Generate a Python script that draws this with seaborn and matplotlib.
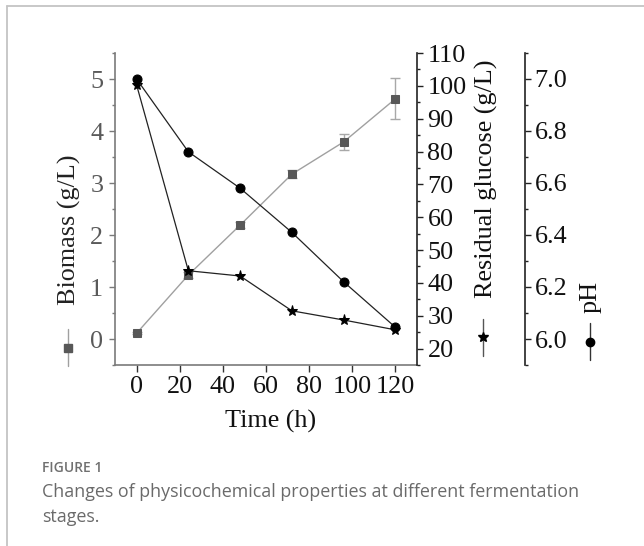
import numpy as np
import pandas as pd
import matplotlib
matplotlib.use("Agg")
import matplotlib.pyplot as plt
from matplotlib.ticker import MultipleLocator
from matplotlib.lines import Line2D
import seaborn as sns

# ---------------- data ----------------
time_h = [0, 24, 48, 72, 96, 120]
biomass = [0.11, 1.23, 2.19, 3.17, 3.79, 4.62]
biomass_err = [0.02, 0.05, 0.06, 0.08, 0.15, 0.39]
glucose = [100.3, 43.7, 42.1, 31.5, 28.7, 25.7]
ph = [7.00, 6.72, 6.58, 6.41, 6.22, 6.045]

x_ticks = [0, 20, 40, 60, 80, 100, 120]
biomass_ticks = [0, 1, 2, 3, 4, 5]
glucose_ticks = [20, 30, 40, 50, 60, 70, 80, 90, 100, 110]
ph_ticks = [6.0, 6.2, 6.4, 6.6, 6.8, 7.0]

df = pd.DataFrame({"time": time_h, "biomass": biomass, "err": biomass_err,
                   "glucose": glucose, "ph": ph})

sns.set_style("ticks")
plt.rcParams['font.family'] = ['Liberation Serif', 'DejaVu Serif']
plt.rcParams['mathtext.fontset'] = 'stix'

W, H = 644, 546
fig = plt.figure(figsize=(W / 100, H / 100), dpi=100)

def fx(px):
    return px / W

def fy(py):
    return 1 - py / H

L, R, T, B = 115, 417, 53, 365
ax = fig.add_axes([fx(L), fy(B), (R - L) / W, (B - T) / H])
ax2 = ax.twinx()
ax3 = ax.twinx()

FS = 18.8
GRAY_AX = "#7a7a7a"

# ---- biomass ----
ax.errorbar(df["time"], df["biomass"], yerr=df["err"], fmt="none",
            ecolor="#a8a8a8", elinewidth=1.0, capsize=3.5, capthick=1.0, zorder=2)
sns.lineplot(data=df, x="time", y="biomass", ax=ax, color="#a0a0a0", lw=1.0,
             marker="s", markersize=5.5, markerfacecolor="#585858",
             markeredgecolor="#585858", zorder=3)
ax.set_xlim(-10, 130)
ax.set_ylim(-0.5, 5.5)
ax.set_xticks(x_ticks)
ax.set_yticks(biomass_ticks)
ax.yaxis.set_minor_locator(MultipleLocator(0.5))
ax.set_xlabel("")
ax.set_ylabel("")
for s in ["top", "right"]:
    ax.spines[s].set_visible(False)
for s in ["left", "bottom"]:
    ax.spines[s].set_color(GRAY_AX)
    ax.spines[s].set_linewidth(1.2)
ax.tick_params(axis="y", which="major", direction="out", length=4.5, width=1.0,
               color=GRAY_AX, labelsize=FS, labelcolor="#5a5a5a", pad=4)
ax.tick_params(axis="y", which="minor", direction="out", length=2.5, width=1.0,
               color=GRAY_AX)
ax.tick_params(axis="x", which="major", direction="out", length=5, width=1.0,
               color="#333333", labelsize=FS, labelcolor="#111111", pad=3)

# ---- glucose ----
sns.lineplot(data=df, x="time", y="glucose", ax=ax2, color="#222222", lw=0.9,
             marker="*", markersize=8, markerfacecolor="#000000",
             markeredgecolor="#000000", zorder=4)
ax2.set_ylim(15, 110)
ax2.set_yticks(glucose_ticks)
ax2.yaxis.set_minor_locator(MultipleLocator(5))
ax2.set_ylabel("")
for s in ["top", "left", "bottom"]:
    ax2.spines[s].set_visible(False)
ax2.spines["right"].set_color("#222222")
ax2.spines["right"].set_linewidth(1.2)
ax2.tick_params(axis="y", which="major", direction="out", length=4.5, width=1.0,
                color="#222222", labelsize=FS, labelcolor="#111111", pad=3)
ax2.tick_params(axis="y", which="minor", direction="out", length=2.5, width=1.0,
                color="#222222")

# ---- pH ----
sns.lineplot(data=df, x="time", y="ph", ax=ax3, color="#222222", lw=0.9,
             marker="o", markersize=6.5, markerfacecolor="#000000",
             markeredgecolor="#000000", zorder=5)
ax3.set_ylim(5.9, 7.1)
ax3.set_yticks(ph_ticks)
ax3.yaxis.set_minor_locator(MultipleLocator(0.1))
ax3.set_ylabel("")
ax3.spines["right"].set_position(("axes", (525 - L) / (R - L)))
for s in ["top", "left", "bottom"]:
    ax3.spines[s].set_visible(False)
ax3.spines["right"].set_color("#222222")
ax3.spines["right"].set_linewidth(1.2)
ax3.yaxis.set_major_formatter(matplotlib.ticker.FormatStrFormatter("%.1f"))
ax3.tick_params(axis="y", which="major", direction="out", length=4.5, width=1.0,
                color="#222222", labelsize=FS, labelcolor="#111111", pad=2.5)
ax3.tick_params(axis="y", which="minor", direction="out", length=2.5, width=1.0,
                color="#222222")

# ---- axis titles ----
fig.text(fx(271), fy(421), "Time (h)", ha="center", va="center", fontsize=FS,
         color="#111111")
fig.text(fx(69), fy(230), "Biomass (g/L)", ha="center", va="center", rotation=90,
         fontsize=FS, color="#222222")
fig.text(fx(486), fy(179), "Residual glucose (g/L)", ha="center", va="center",
         rotation=90, fontsize=FS, color="#111111")
fig.text(fx(591), fy(297), "pH", ha="center", va="center", rotation=90,
         fontsize=FS, color="#111111")

# ---- legend-like symbols next to axis titles ----
def key(xp, y0, y1, ym, marker, ms, lc, mc):
    fig.add_artist(Line2D([fx(xp), fx(xp)], [fy(y0), fy(y1)], transform=fig.transFigure,
                          color=lc, lw=1.0))
    fig.add_artist(Line2D([fx(xp)], [fy(ym)], transform=fig.transFigure, marker=marker,
                          markersize=ms, color=mc, markerfacecolor=mc,
                          markeredgecolor=mc, lw=0))

key(68, 329, 366, 348, "s", 5.5, "#a0a0a0", "#585858")
key(483, 319, 356, 337, "*", 7.5, "#555555", "#000000")
key(590, 323, 360, 342, "o", 6, "#333333", "#000000")

# ---- page frame ----
fig.add_artist(Line2D([fx(7), 1], [fy(6), fy(6)], transform=fig.transFigure,
                      color="#c4c4c4", lw=1.3))
fig.add_artist(Line2D([fx(7), fx(7)], [fy(6), 0], transform=fig.transFigure,
                      color="#c4c4c4", lw=1.3))

# ---- caption ----
fig.text(fx(42), fy(472), "FIGURE 1", ha="left", va="baseline", fontsize=10,
         family=["Open Sans", "DejaVu Sans"], fontweight="semibold", color="#707070")
fig.text(fx(42), fy(497), "Changes of physicochemical properties at different fermentation",
         ha="left", va="baseline", fontsize=12.85, family=["Open Sans", "DejaVu Sans"],
         color="#6a6a6a")
fig.text(fx(42), fy(522), "stages.", ha="left", va="baseline", fontsize=12.85,
         family=["Open Sans", "DejaVu Sans"], color="#6a6a6a")

fig.savefig("out.png", dpi=100)
